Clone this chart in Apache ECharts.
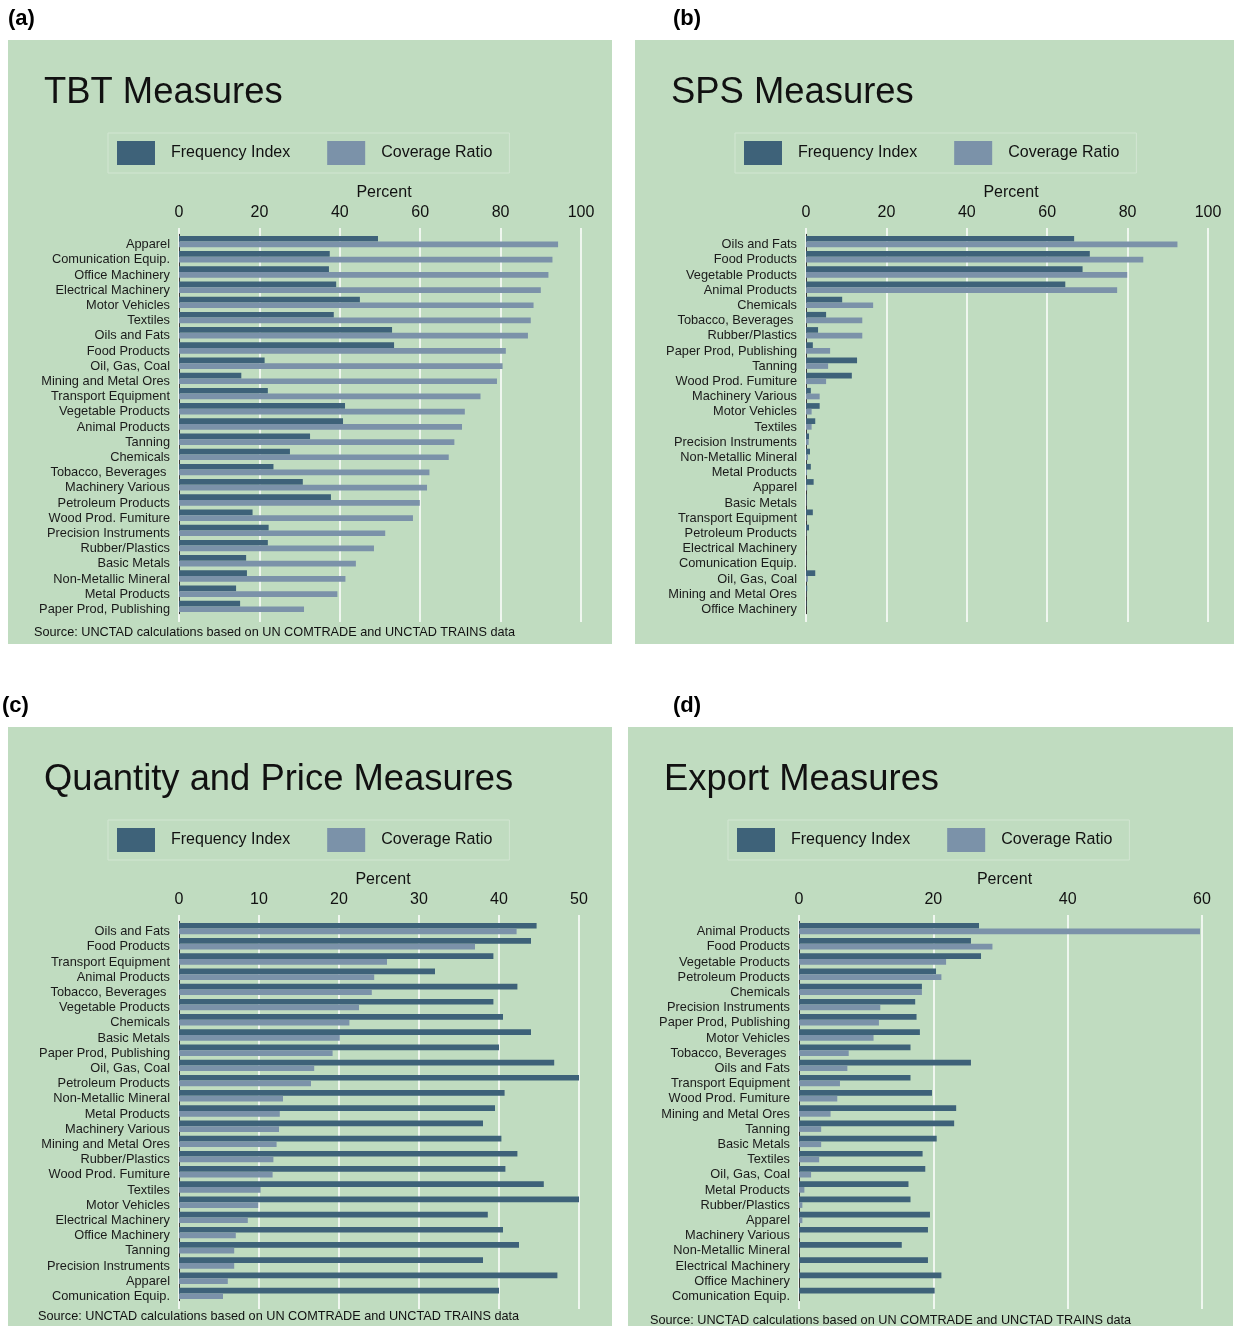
<!DOCTYPE html>
<html>
<head>
<meta charset="utf-8">
<title>Non-tariff measures by sector</title>
<script src="https://cdn.jsdelivr.net/npm/echarts@6/dist/echarts.min.js"></script>
<style>
  html, body { margin: 0; padding: 0; background: #fff; }
  #chart { width: 1234px; height: 1326px; }
</style>
</head>
<body>
<div id="chart"></div>
<script>
// (a) TBT measures
const tbtCats = ['Apparel', 'Comunication Equip.', 'Office Machinery', 'Electrical Machinery', 'Motor Vehicles',
  'Textiles', 'Oils and Fats', 'Food Products', 'Oil, Gas, Coal', 'Mining and Metal Ores', 'Transport Equipment',
  'Vegetable Products', 'Animal Products', 'Tanning', 'Chemicals', 'Tobacco, Beverages ', 'Machinery Various',
  'Petroleum Products', 'Wood Prod. Fumiture', 'Precision Instruments', 'Rubber/Plastics', 'Basic Metals',
  'Non-Metallic Mineral', 'Metal Products', 'Paper Prod, Publishing']
const tbtFreq = [49.5, 37.5, 37.3, 39.1, 45.0, 38.5, 53.0, 53.5, 21.3, 15.5, 22.1, 41.3, 40.8,
  32.6, 27.6, 23.5, 30.8, 37.8, 18.3, 22.3, 22.1, 16.7, 16.9, 14.2, 15.2]
const tbtCov = [94.3, 92.9, 91.9, 90.0, 88.2, 87.5, 86.8, 81.3, 80.5, 79.1, 75.0, 71.1, 70.4,
  68.5, 67.1, 62.3, 61.7, 59.9, 58.2, 51.3, 48.5, 44.0, 41.4, 39.4, 31.1]

// (b) SPS measures
const spsCats = ['Oils and Fats', 'Food Products', 'Vegetable Products', 'Animal Products', 'Chemicals',
  'Tobacco, Beverages ', 'Rubber/Plastics', 'Paper Prod, Publishing', 'Tanning', 'Wood Prod. Fumiture',
  'Machinery Various', 'Motor Vehicles', 'Textiles', 'Precision Instruments', 'Non-Metallic Mineral',
  'Metal Products', 'Apparel', 'Basic Metals', 'Transport Equipment', 'Petroleum Products',
  'Electrical Machinery', 'Comunication Equip.', 'Oil, Gas, Coal', 'Mining and Metal Ores', 'Office Machinery']
const spsFreq = [66.7, 70.6, 68.8, 64.5, 9.0, 5.0, 3.0, 1.7, 12.7, 11.4, 1.2, 3.4, 2.3,
  0.75, 1.0, 1.2, 1.9, 0.15, 1.7, 0.75, 0.1, 0.1, 2.3, 0.3, 0.1]
const spsCov = [92.4, 83.9, 79.9, 77.4, 16.7, 14.0, 14.0, 6.0, 5.5, 5.0, 3.4, 1.4, 1.4,
  0.66, 0.5, 0.25, 0.3, 0.1, 0.1, 0.1, 0.05, 0.05, 0.5, 0.05, 0]

// (c) Quantity and price measures
const qpCats = ['Oils and Fats', 'Food Products', 'Transport Equipment', 'Animal Products', 'Tobacco, Beverages ',
  'Vegetable Products', 'Chemicals', 'Basic Metals', 'Paper Prod, Publishing', 'Oil, Gas, Coal',
  'Petroleum Products', 'Non-Metallic Mineral', 'Metal Products', 'Machinery Various', 'Mining and Metal Ores',
  'Rubber/Plastics', 'Wood Prod. Fumiture', 'Textiles', 'Motor Vehicles', 'Electrical Machinery',
  'Office Machinery', 'Tanning', 'Precision Instruments', 'Apparel', 'Comunication Equip.']
const qpFreq = [44.7, 44.0, 39.3, 32.0, 42.3, 39.3, 40.5, 44.0, 40.0, 46.9, 50.0, 40.7, 39.5,
  38.0, 40.3, 42.3, 40.8, 45.6, 50.0, 38.6, 40.5, 42.5, 38.0, 47.3, 40.0]
const qpCov = [42.2, 37.0, 26.0, 24.4, 24.1, 22.5, 21.3, 20.1, 19.2, 16.9, 16.5, 13.0, 12.6,
  12.5, 12.2, 11.8, 11.7, 10.2, 9.9, 8.6, 7.1, 6.9, 6.9, 6.1, 5.5]

// (d) Export measures
const expCats = ['Animal Products', 'Food Products', 'Vegetable Products', 'Petroleum Products', 'Chemicals',
  'Precision Instruments', 'Paper Prod, Publishing', 'Motor Vehicles', 'Tobacco, Beverages ', 'Oils and Fats',
  'Transport Equipment', 'Wood Prod. Fumiture', 'Mining and Metal Ores', 'Tanning', 'Basic Metals', 'Textiles',
  'Oil, Gas, Coal', 'Metal Products', 'Rubber/Plastics', 'Apparel', 'Machinery Various', 'Non-Metallic Mineral',
  'Electrical Machinery', 'Office Machinery', 'Comunication Equip.']
const expFreq = [26.8, 25.6, 27.1, 20.4, 18.3, 17.3, 17.5, 18.0, 16.6, 25.6, 16.6, 19.8, 23.4,
  23.1, 20.5, 18.4, 18.8, 16.3, 16.6, 19.5, 19.2, 15.3, 19.2, 21.2, 20.2]
const expCov = [59.7, 28.8, 21.9, 21.2, 18.3, 12.1, 11.9, 11.1, 7.4, 7.2, 6.1, 5.7, 4.7,
  3.3, 3.3, 3.0, 1.8, 0.8, 0.5, 0.5, 0.1, 0.05, 0.05, 0, 0]

const seriesNames = ['Frequency Index', 'Coverage Ratio']
const FONT = '"Liberation Sans", Arial, sans-serif'
const DARK = '#3e6279'
const LIGHT = '#7b92a9'
const BG = '#c0dcc0'
const SOURCE = 'Source: UNCTAD calculations based on UN COMTRADE and UNCTAD TRAINS data'

// panel layout (offsets are relative to panel (a))
const panels = [
  { tag: '(a)', tagX: 8, tagY: 8, title: 'TBT Measures', cats: tbtCats, freq: tbtFreq, cov: tbtCov,
    max: 100, step: 20, dx: 0, dy: 0, gw: 402, bg: [8, 40, 604, 604], source: [34, 626] },
  { tag: '(b)', tagX: 673, tagY: 8, title: 'SPS Measures', cats: spsCats, freq: spsFreq, cov: spsCov,
    max: 100, step: 20, dx: 627, dy: 0, gw: 402, bg: [635, 40, 599, 604], source: null },
  { tag: '(c)', tagX: 2, tagY: 695, title: 'Quantity and Price Measures', cats: qpCats, freq: qpFreq, cov: qpCov,
    max: 50, step: 10, dx: 0, dy: 687, gw: 400, bg: [8, 727, 604, 599], source: [38, 1310] },
  { tag: '(d)', tagX: 673, tagY: 695, title: 'Export Measures', cats: expCats, freq: expFreq, cov: expCov,
    max: 60, step: 20, dx: 620, dy: 687, gw: 403, bg: [628, 727, 605, 599], source: [650, 1314] }
]

const chart = echarts.init(document.getElementById('chart'))

const option = {
  backgroundColor: '#fff',
  animation: false,
  textStyle: { fontFamily: FONT },
  graphic: [],
  title: [],
  legend: [],
  grid: [],
  xAxis: [],
  yAxis: [],
  series: []
}

panels.forEach((p, i) => {
  option.graphic.push({
    type: 'rect', z: -10, silent: true,
    shape: { x: p.bg[0], y: p.bg[1], width: p.bg[2], height: p.bg[3] },
    style: { fill: BG }
  })

  option.title.push({
    text: p.tag, left: p.tagX, top: p.tagY, padding: 0,
    textStyle: { fontSize: 22, fontWeight: 'bold', color: '#000', fontFamily: FONT }
  })
  option.title.push({
    text: p.title, left: 44 + p.dx, top: 75 + p.dy, padding: 0,
    textStyle: { fontSize: 36.4, fontWeight: 'normal', color: '#111', fontFamily: FONT }
  })
  if (p.source) {
    option.title.push({
      text: SOURCE,
      left: p.source[0], top: p.source[1], padding: 0,
      textStyle: { fontSize: 12.7, fontWeight: 'normal', color: '#111', fontFamily: FONT }
    })
  }

  option.legend.push({
    data: seriesNames,
    left: 108 + p.dx,
    top: 133 + p.dy,
    orient: 'horizontal',
    icon: 'rect',
    itemWidth: 38,
    itemHeight: 24,
    itemGap: 37,
    padding: [8, 17, 8, 9],
    borderColor: '#d2e6d2',
    borderWidth: 1,
    selectedMode: false,
    textStyle: { fontSize: 16, color: '#111', fontFamily: FONT, padding: [2, 0, 0, 11] }
  })

  option.grid.push({
    left: 179 + p.dx,
    top: 234 + p.dy,
    width: p.gw,
    height: 380
  })

  // top value axis with labels and white gridlines
  option.xAxis.push({
    type: 'value',
    gridIndex: i,
    position: 'top',
    min: 0,
    max: p.max,
    interval: p.step,
    name: 'Percent',
    nameLocation: 'middle',
    nameGap: 33,
    nameTextStyle: { fontSize: 16, color: '#111', fontFamily: FONT, padding: [0, 0, 0, 8] },
    axisLine: { show: false },
    axisTick: { show: true, length: 6, lineStyle: { color: '#fff', width: 1.5 } },
    axisLabel: { fontSize: 16, color: '#111', margin: 13, fontFamily: FONT },
    splitLine: { show: true, lineStyle: { color: '#fff', width: 1.5 } }
  })
  // bottom helper axis: only extends the gridlines a little below the bars
  option.xAxis.push({
    type: 'value',
    gridIndex: i,
    position: 'bottom',
    min: 0,
    max: p.max,
    interval: p.step,
    axisLine: { show: false },
    axisTick: { show: true, length: 8, lineStyle: { color: '#fff', width: 1.5 } },
    axisLabel: { show: false },
    splitLine: { show: false }
  })

  // labels sit a little below the centre of their bar pair, as in the original
  option.yAxis.push({
    type: 'category',
    gridIndex: i,
    data: p.cats,
    inverse: true,
    axisLine: { show: true, lineStyle: { color: '#3a3a3a', width: 1 } },
    axisTick: { show: false },
    axisLabel: {
      fontSize: 12.8, color: '#1a1a1a', margin: 9, fontFamily: FONT, interval: 0,
      verticalAlign: 'top', lineHeight: 6
    }
  })

  option.series.push({
    name: seriesNames[0],
    type: 'bar',
    xAxisIndex: i * 2,
    yAxisIndex: i,
    data: p.freq,
    barGap: '0%',
    barCategoryGap: '25%',
    itemStyle: { color: DARK }
  })
  option.series.push({
    name: seriesNames[1],
    type: 'bar',
    xAxisIndex: i * 2,
    yAxisIndex: i,
    data: p.cov,
    barGap: '0%',
    barCategoryGap: '25%',
    itemStyle: { color: LIGHT }
  })
})

chart.setOption(option)
</script>
</body>
</html>
